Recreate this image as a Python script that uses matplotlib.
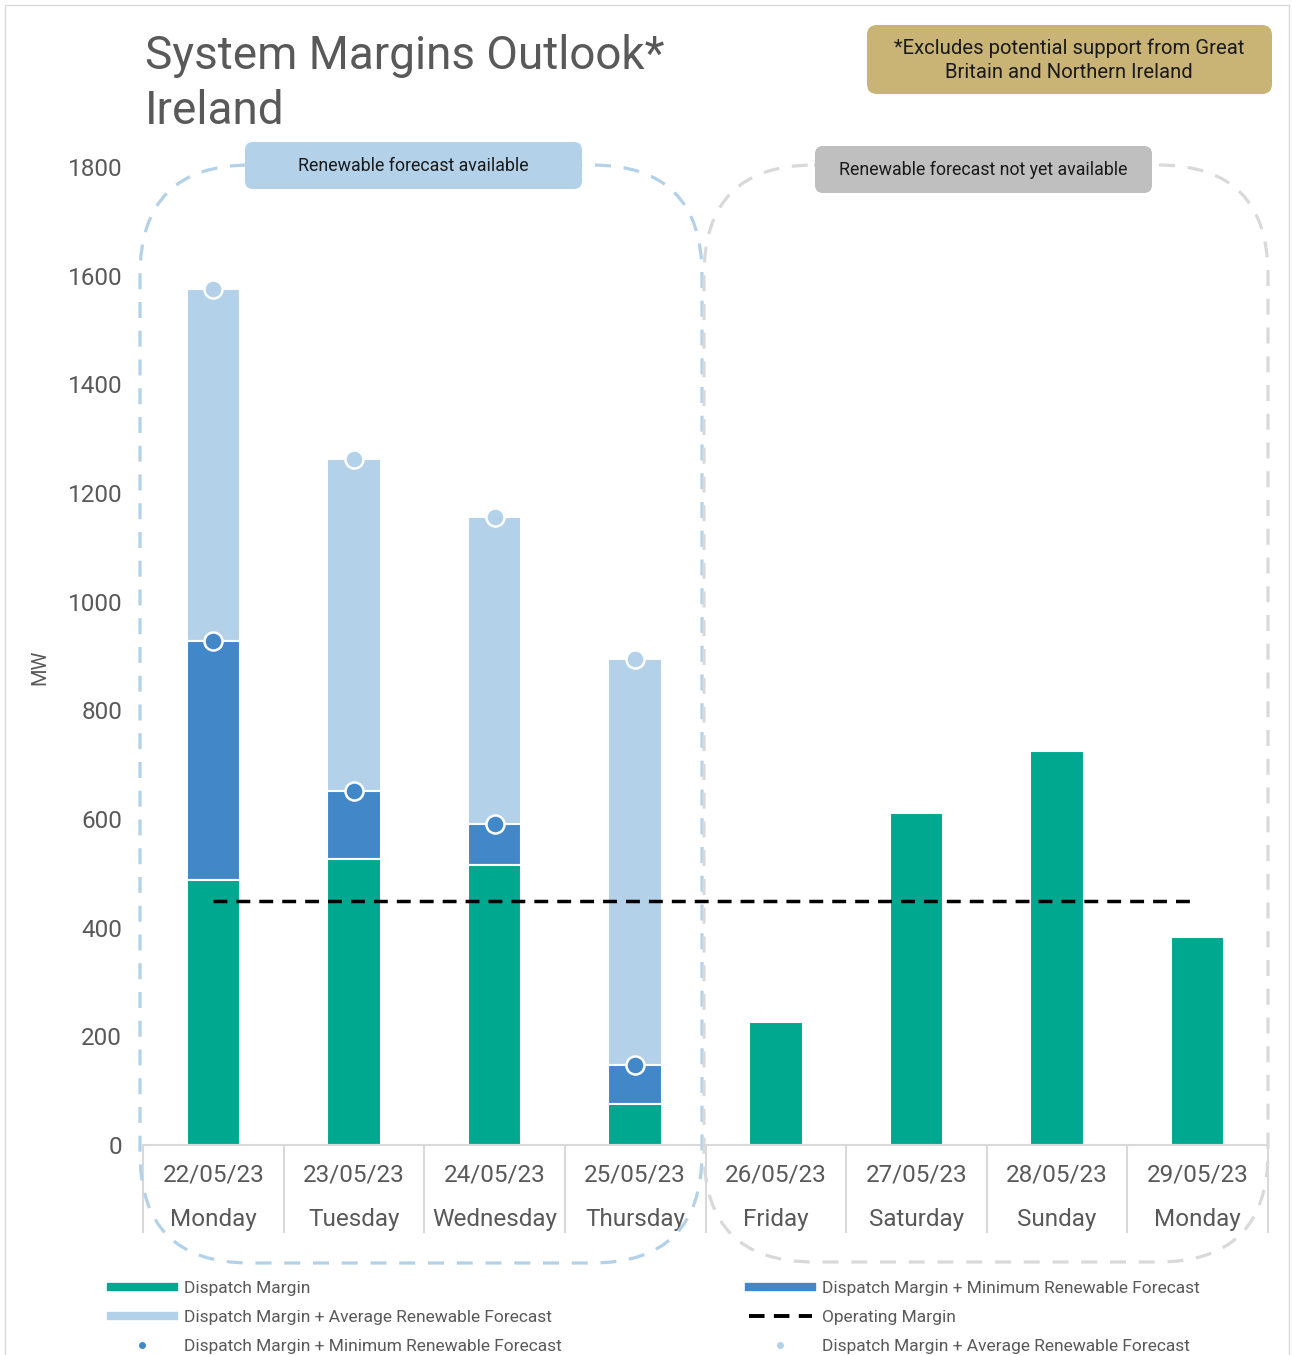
import numpy as np
import matplotlib
matplotlib.use('Agg')
import matplotlib.pyplot as plt
import matplotlib.transforms as mtrans
from matplotlib.patches import FancyBboxPatch, Rectangle
from matplotlib.lines import Line2D

plt.rcParams['font.family'] = ['Roboto', 'DejaVu Sans']

# data
dates = ['22/05/23', '23/05/23', '24/05/23', '25/05/23',
         '26/05/23', '27/05/23', '28/05/23', '29/05/23']
days = ['Monday', 'Tuesday', 'Wednesday', 'Thursday',
        'Friday', 'Saturday', 'Sunday', 'Monday']
dispatch_margin = [488, 526, 515, 75, 226, 611, 725, 383]
dm_min_renewable = [928, 652, 591, 147]
dm_avg_renewable = [1575, 1263, 1156, 895]
operating_margin = 450

GREEN = '#00A88F'
DARK = '#4287C8'
LIGHT = '#B3D1E8'
GREY_LINE = '#D9D9D9'
TEXT = '#595959'

W, H = 1292, 1355
fig = plt.figure(figsize=(W / 100, H / 100), dpi=100)


def fx(px):
    return px / W


def fy(py):
    return 1 - py / H


ax = fig.add_axes([fx(143), fy(1145), fx(1268) - fx(143), fy(167) - fy(1145)])

x = np.arange(len(dates))
n = len(dm_avg_renewable)
bw = 0.38
dm = np.array(dispatch_margin)
mn = np.array(dm_min_renewable)
av = np.array(dm_avg_renewable)

ax.bar(x[:n], av - mn, bottom=mn, width=bw, color=LIGHT, edgecolor='white', lw=1.5, zorder=2)
ax.bar(x[:n], mn - dm[:n], bottom=dm[:n], width=bw, color=DARK, edgecolor='white', lw=1.5, zorder=2)
ax.bar(x, dm, width=bw, color=GREEN, edgecolor='white', lw=1.5, zorder=2)

ax.plot(x[:n], av, 'o', ms=13, mfc=LIGHT, mec='white', mew=1.8, zorder=4, clip_on=False)
ax.plot(x[:n], mn, 'o', ms=13, mfc=DARK, mec='white', mew=1.8, zorder=4)

ax.hlines(operating_margin, x[0], x[-1], colors='black', lw=2.5,
          linestyles=(0, (4, 2.6)), zorder=5)

ax.set_xlim(-0.5, len(dates) - 0.5)
ax.set_ylim(0, 1800)
ax.set_yticks(np.arange(0, 1801, 200))
ax.set_xticks([])
for s in ['left', 'top', 'right']:
    ax.spines[s].set_visible(False)
ax.spines['bottom'].set_color(GREY_LINE)
ax.spines['bottom'].set_linewidth(1.5)
ax.tick_params(axis='y', length=0, pad=15, labelsize=17.5, labelcolor=TEXT)
ax.patch.set_alpha(0)

# two-level category axis
trans = mtrans.blended_transform_factory(ax.transData, ax.transAxes)
for b in np.arange(-0.5, len(dates), 1):
    ax.plot([b, b], [0, -0.089], transform=trans, color=GREY_LINE, lw=1.5, clip_on=False)
for i in range(len(dates)):
    ax.text(x[i], -0.031, dates[i], transform=trans, ha='center', va='center',
            fontsize=17.5, color=TEXT)
    ax.text(x[i], -0.0765, days[i], transform=trans, ha='center', va='center',
            fontsize=17.5, color=TEXT)

fig.text(fx(40), fy(667), 'MW', rotation=90, ha='center', va='center', fontsize=14.5, color=TEXT)

# overlay in pixel units for the decorations
ov = fig.add_axes([0, 0, 1, 1], zorder=5)
ov.set_xlim(0, W)
ov.set_ylim(H, 0)
ov.axis('off')

ov.add_patch(Rectangle((5, 5), 1284, 1360, fill=False, ec=GREY_LINE, lw=1))

ov.add_patch(FancyBboxPatch((140, 165), 562, 1098, boxstyle='round,pad=0,rounding_size=110',
                            fill=False, ec=LIGHT, lw=2.3, ls=(0, (5, 4))))
ov.add_patch(FancyBboxPatch((704, 165), 564, 1097, boxstyle='round,pad=0,rounding_size=110',
                            fill=False, ec=GREY_LINE, lw=2.3, ls=(0, (5, 4))))

ov.add_patch(FancyBboxPatch((245, 142), 337, 47, boxstyle='round,pad=0,rounding_size=8',
                            fc=LIGHT, ec='none'))
ov.text(413, 166, 'Renewable forecast available', ha='center', va='center', fontsize=12.8, color='#1a1a1a')
ov.add_patch(FancyBboxPatch((815, 146), 337, 47, boxstyle='round,pad=0,rounding_size=8',
                            fc='#BFBFBF', ec='none'))
ov.text(983, 170, 'Renewable forecast not yet available', ha='center', va='center', fontsize=12.8, color='#1a1a1a')

ov.add_patch(FancyBboxPatch((867, 25), 405, 69, boxstyle='round,pad=0,rounding_size=10',
                            fc='#C9B475', ec='none'))
ov.text(1069, 60, '*Excludes potential support from Great\nBritain and Northern Ireland',
        ha='center', va='center', fontsize=14.6, color='#1a1a1a', linespacing=1.3)

ov.text(145, 34, 'System Margins Outlook*\nIreland', ha='left', va='top', fontsize=33,
        color=TEXT, linespacing=1.3)

handles = [
    Line2D([], [], color=GREEN, lw=6),
    Line2D([], [], color=LIGHT, lw=6),
    Line2D([], [], color=DARK, marker='o', ms=4, ls='none'),
    Line2D([], [], color=DARK, lw=6),
    Line2D([], [], color='black', lw=2.8, ls=(0, (4, 2.4))),
    Line2D([], [], color=LIGHT, marker='o', ms=4, ls='none'),
]
labels = [
    'Dispatch Margin',
    'Dispatch Margin + Average Renewable Forecast',
    'Dispatch Margin + Minimum Renewable Forecast',
    'Dispatch Margin + Minimum Renewable Forecast',
    'Operating Margin',
    'Dispatch Margin + Average Renewable Forecast',
]
fig.legend(handles, labels, ncol=2, loc='upper left', bbox_to_anchor=(fx(111), fy(1281)),
           frameon=False, fontsize=12.5, labelcolor=TEXT, handlelength=3.6, handletextpad=0.6,
           columnspacing=10.8, labelspacing=0.8, borderpad=0, borderaxespad=0)

fig.savefig('out.png', dpi=100)
